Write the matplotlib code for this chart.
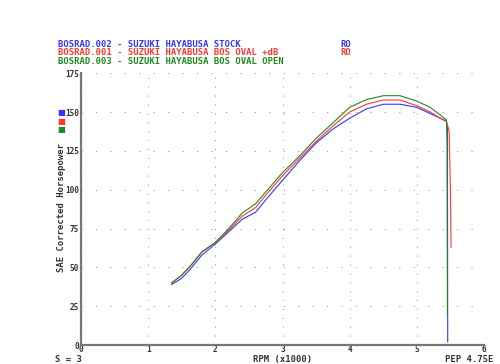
import matplotlib
matplotlib.use('Agg')
import matplotlib.pyplot as plt

rpm = [1.35, 1.5, 1.65, 1.8, 2.0, 2.2, 2.4, 2.6, 2.8, 3.0, 3.25, 3.5, 3.75,
       4.0, 4.25, 4.5, 4.75, 5.0, 5.2, 5.35, 5.44]

hp_stock = [39, 43, 50, 58, 65, 73, 81, 85.5, 96, 106, 118.5, 130, 139,
            146, 152, 155, 155, 153, 149, 146, 144]
hp_dB = [40, 45, 52, 60, 66, 74, 83, 88.5, 99, 109, 120, 131, 141,
         150, 155, 157.7, 157.7, 154, 150, 146, 144]
hp_open = [40, 45, 52, 60, 66, 75, 85, 91, 101, 111, 121.5, 133, 143,
           153, 158, 160.5, 160.5, 157, 153, 148, 145]

# drop-off tails after peak rpm
tail_stock_rpm = [5.455, 5.46]
tail_stock_hp = [140, 2]
tail_dB_rpm = [5.48, 5.50, 5.51]
tail_dB_hp = [138, 100, 63]
tail_open_rpm = [5.45, 5.455]
tail_open_hp = [130, 20]

runs = ['BOSRAD.002 - SUZUKI HAYABUSA STOCK',
        'BOSRAD.001 - SUZUKI HAYABUSA BOS OVAL +dB',
        'BOSRAD.003 - SUZUKI HAYABUSA BOS OVAL OPEN']
run_tags = ['RO', 'RO', '']
colors = ['#3535ff', '#ff3535', '#1f8a1f']

fig = plt.figure(figsize=(5, 3.64), dpi=100)
ax = fig.add_axes([0.162, 0.052, 0.806, 0.747])

font = dict(family='DejaVu Sans Mono', fontweight='bold', fontsize=6.4)
tick_font = dict(family='DejaVu Sans Mono', fontweight='bold', fontsize=5.6)

series = [(hp_stock, tail_stock_rpm, tail_stock_hp),
          (hp_dB, tail_dB_rpm, tail_dB_hp),
          (hp_open, tail_open_rpm, tail_open_hp)]
for (hp, trpm, thp), c in zip(series, colors):
    ax.plot(rpm + trpm, hp + thp, color=c, lw=0.8)

ax.set_xlim(0, 6)
ax.set_ylim(0, 175)
ax.set_xticks(range(0, 7))
ax.set_yticks(range(0, 176, 25))
ax.set_xticklabels([str(i) for i in range(0, 7)], **tick_font)
ax.set_yticklabels([str(i) for i in range(0, 176, 25)], **tick_font)
ax.tick_params(length=0, colors='#333333')
ax.tick_params(axis='x', pad=0)
ax.tick_params(axis='y', pad=1.5)

ax.xaxis.grid(True, color='#999999', lw=0.8, linestyle=(0, (1, 7)))
ax.yaxis.grid(True, color='#999999', lw=0.8, linestyle=(0, (1, 12)))
for s in ['top', 'right']:
    ax.spines[s].set_visible(False)
for s in ['left', 'bottom']:
    ax.spines[s].set_color('#777777')
    ax.spines[s].set_linewidth(1.6)

for i, (name, tag, c) in enumerate(zip(runs, run_tags, colors)):
    fig.text(0.116, 0.879 - i * 0.0235, name, color=c, va='center', **font)
    if tag:
        fig.text(0.68, 0.879 - i * 0.0235, tag, color=c, va='center', **font)
    fig.text(0.114, 0.69 - i * 0.0235, '\u25a0', color=c, va='center',
             ha='left', fontsize=6)

fig.text(0.122, 0.43, 'SAE Corrected Horsepower', rotation=90,
         ha='center', va='center', color='#333333', **font)
fig.text(0.566, 0.011, 'RPM (x1000)', ha='center', va='center',
         color='#333333', **font)
fig.text(0.11, 0.011, 'S = 3', ha='left', va='center', color='#333333', **font)
fig.text(0.986, 0.011, 'PEP 4.75E', ha='right', va='center',
         color='#333333', **font)

fig.savefig('out.png', dpi=100)
